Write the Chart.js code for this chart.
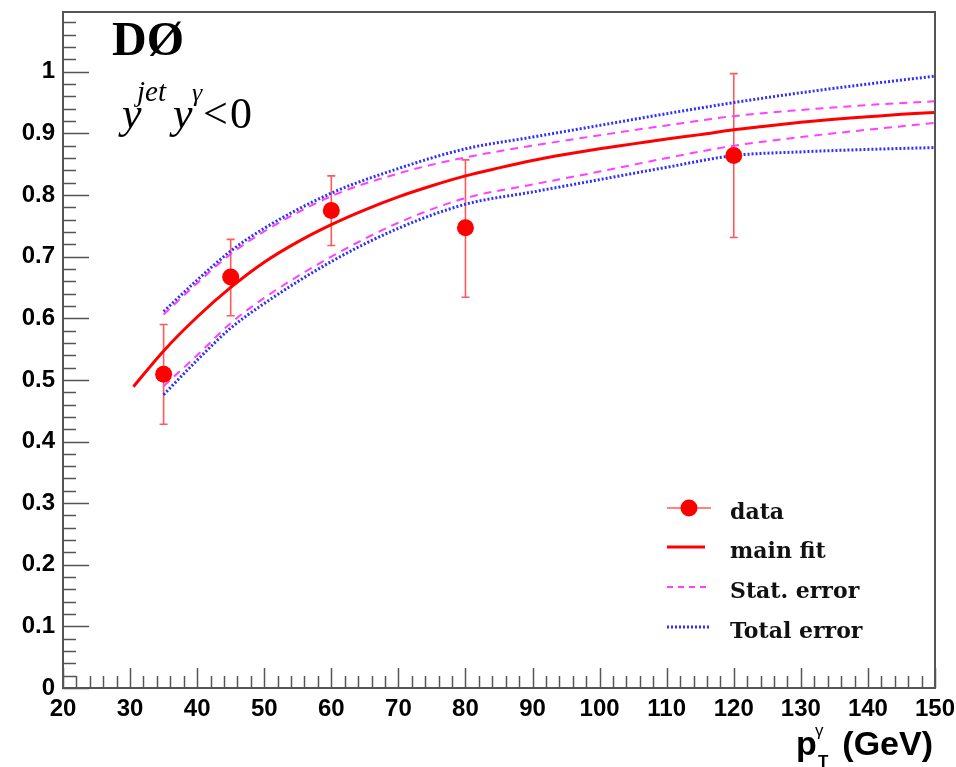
<!DOCTYPE html>
<html>
<head>
<meta charset="utf-8">
<script src="https://cdn.jsdelivr.net/npm/chart.js@4.4.1/dist/chart.umd.min.js"></script>
<style>
  html, body { margin: 0; padding: 0; background: #ffffff; }
  #wrap { width: 956px; height: 767px; }
</style>
</head>
<body>
<div id="wrap"><canvas id="c" width="956" height="767"></canvas></div>
<script>
// ---- data ----
const dataX    = [35, 45, 60, 80, 120];
const dataY    = [0.509, 0.667, 0.775, 0.747, 0.864];
const dataHigh = [0.590, 0.728, 0.831, 0.857, 0.997];
const dataLow  = [0.428, 0.604, 0.718, 0.634, 0.731];

const fitX = [30.5, 35, 40, 45, 50, 55, 60, 65, 70, 75, 80, 85, 90, 95, 100, 105, 110, 115, 120, 125, 130, 135, 140, 145, 150];
const fitY = [0.489, 0.547, 0.602, 0.650, 0.691, 0.724, 0.752, 0.776, 0.797, 0.815, 0.831, 0.844, 0.856, 0.866, 0.875, 0.883, 0.891, 0.898, 0.906, 0.912, 0.918, 0.923, 0.927, 0.931, 0.934];

const bandX   = [35, 40, 45, 50, 60, 70, 80, 90, 100, 110, 120, 130, 140, 150];
const statUp  = [0.606, 0.657, 0.704, 0.741, 0.798, 0.835, 0.861, 0.880, 0.897, 0.913, 0.928, 0.938, 0.946, 0.952];
const statDn  = [0.490, 0.540, 0.592, 0.633, 0.700, 0.755, 0.795, 0.817, 0.838, 0.860, 0.880, 0.894, 0.906, 0.917];
const totUp   = [0.611, 0.662, 0.709, 0.746, 0.803, 0.843, 0.875, 0.894, 0.913, 0.932, 0.950, 0.966, 0.980, 0.993];
const totDn   = [0.476, 0.532, 0.584, 0.624, 0.692, 0.746, 0.785, 0.805, 0.825, 0.845, 0.864, 0.870, 0.874, 0.877];

const xTickLabels = ['20','30','40','50','60','70','80','90','100','110','120','130','140','150'];
const yTickLabels = ['0','0.1','0.2','0.3','0.4','0.5','0.6','0.7','0.8','0.9','1'];
const legendLabels = ['data', 'main fit', 'Stat. error', 'Total error'];

const X_MIN = 20, X_MAX = 150, X_STEP = 10, X_MINOR = 2;
const Y_MIN = 0, Y_MAX = 1.097, Y_STEP = 0.1, Y_MINOR = 0.02;

const pts = (xs, ys) => xs.map((x, i) => ({x: x, y: ys[i]}));

const RED = '#ff0000';
const ERR = 'rgba(255,60,60,0.85)';
const MAG = '#ff40ff';
const BLUE = '#2f2fff';
const FRAME = '#555555';

const datasets = [
  { label: legendLabels[0], data: pts(dataX, dataY), showLine: false,
    pointRadius: 8.5, pointHoverRadius: 8.5, pointBackgroundColor: RED, pointBorderColor: RED,
    pointBorderWidth: 0, borderColor: RED, backgroundColor: RED, order: 0 },
  { label: legendLabels[1], data: pts(fitX, fitY), borderColor: RED, borderWidth: 3,
    pointRadius: 0, cubicInterpolationMode: 'monotone', fill: false, order: 1 },
  { label: legendLabels[2], data: pts(bandX, statUp), borderColor: MAG, borderWidth: 2,
    borderDash: [8, 6], pointRadius: 0, cubicInterpolationMode: 'monotone', fill: false, order: 2 },
  { label: '_statDn', data: pts(bandX, statDn), borderColor: MAG, borderWidth: 2,
    borderDash: [8, 6], pointRadius: 0, cubicInterpolationMode: 'monotone', fill: false, order: 2 },
  { label: legendLabels[3], data: pts(bandX, totUp), borderColor: BLUE, borderWidth: 3,
    borderDash: [2, 2], pointRadius: 0, cubicInterpolationMode: 'monotone', fill: false, order: 3 },
  { label: '_totDn', data: pts(bandX, totDn), borderColor: BLUE, borderWidth: 3,
    borderDash: [2, 2], pointRadius: 0, cubicInterpolationMode: 'monotone', fill: false, order: 3 }
];

// error bars drawn through the chart scales
const errorBars = {
  id: 'errorBars',
  beforeDatasetsDraw(chart) {
    const {ctx, scales: {x, y}} = chart;
    ctx.save();
    ctx.strokeStyle = ERR;
    ctx.lineWidth = 1.6;
    dataX.forEach((vx, i) => {
      const px = x.getPixelForValue(vx);
      const pHi = y.getPixelForValue(dataHigh[i]);
      const pLo = y.getPixelForValue(dataLow[i]);
      ctx.beginPath();
      ctx.moveTo(px, pHi); ctx.lineTo(px, pLo);
      ctx.moveTo(px - 4, pHi); ctx.lineTo(px + 4, pHi);
      ctx.moveTo(px - 4, pLo); ctx.lineTo(px + 4, pLo);
      ctx.stroke();
    });
    ctx.restore();
  }
};

// frame, inward major/minor ticks, texts and legend
const decor = {
  id: 'decor',
  afterDraw(chart) {
    const {ctx, chartArea: a, scales: {x, y}} = chart;
    ctx.save();
    // frame
    ctx.strokeStyle = FRAME;
    ctx.lineWidth = 2;
    ctx.strokeRect(a.left, a.top, a.right - a.left, a.bottom - a.top);
    // x ticks
    ctx.lineWidth = 1.5;
    ctx.beginPath();
    for (let v = X_MIN; v <= X_MAX + 1e-9; v += X_MINOR) {
      const px = Math.round(x.getPixelForValue(v)) + 0.5;
      const major = Math.abs(v / X_STEP - Math.round(v / X_STEP)) < 1e-6;
      ctx.moveTo(px, a.bottom);
      ctx.lineTo(px, a.bottom - (major ? 20 : 12));
    }
    // y ticks
    for (let v = Y_MIN; v <= Y_MAX + 1e-9; v += Y_MINOR) {
      const py = Math.round(y.getPixelForValue(v)) + 0.5;
      const major = Math.abs(v / Y_STEP - Math.round(v / Y_STEP)) < 1e-6;
      ctx.moveTo(a.left, py);
      ctx.lineTo(a.left + (major ? 26 : 13), py);
    }
    ctx.stroke();

    // DØ label
    ctx.fillStyle = '#000';
    ctx.textBaseline = 'alphabetic';
    ctx.textAlign = 'left';
    ctx.font = 'bold 48px "Liberation Serif"';
    ctx.fillText('DØ', 112, 55);

    // y^jet y^γ < 0
    ctx.font = 'italic 44px "Liberation Serif"';
    ctx.fillText('y', 122, 128);
    ctx.font = 'italic 29px "Liberation Serif"';
    ctx.fillText('jet', 137, 101);
    ctx.font = 'italic 44px "Liberation Serif"';
    ctx.fillText('y', 173, 128);
    ctx.font = 'italic 26px "Liberation Serif"';
    ctx.fillText('γ', 192, 101);
    ctx.font = '44px "Liberation Serif"';
    ctx.fillText('<', 203, 128);
    ctx.fillText('0', 230, 128);

    // axis title p_T^γ (GeV)
    ctx.font = 'bold 34px "Liberation Sans"';
    ctx.textAlign = 'right';
    ctx.fillText('(GeV)', 933, 755);
    ctx.textAlign = 'left';
    ctx.fillText('p', 796, 755);
    ctx.font = 'bold 17px "Liberation Sans"';
    ctx.fillText('T', 818, 767);
    ctx.font = '17px "Liberation Sans"';
    ctx.fillText('γ', 815, 736);

    // legend
    const rows = [508, 547, 587, 627];
    const lx0 = 667, lx1 = 711;
    ctx.font = 'bold 22px "DejaVu Serif"';
    // data
    ctx.strokeStyle = ERR; ctx.lineWidth = 1.6; ctx.setLineDash([]);
    ctx.beginPath(); ctx.moveTo(lx0, rows[0]); ctx.lineTo(lx1, rows[0]); ctx.stroke();
    ctx.fillStyle = RED;
    ctx.beginPath(); ctx.arc(689, rows[0], 8.5, 0, Math.PI * 2); ctx.fill();
    // main fit
    ctx.strokeStyle = RED; ctx.lineWidth = 3;
    ctx.beginPath(); ctx.moveTo(lx0, rows[1]); ctx.lineTo(705, rows[1]); ctx.stroke();
    // stat
    ctx.strokeStyle = MAG; ctx.lineWidth = 2; ctx.setLineDash([6, 5]);
    ctx.beginPath(); ctx.moveTo(lx0, rows[2]); ctx.lineTo(708, rows[2]); ctx.stroke();
    // total
    ctx.strokeStyle = BLUE; ctx.lineWidth = 3; ctx.setLineDash([2, 2]);
    ctx.beginPath(); ctx.moveTo(lx0, rows[3]); ctx.lineTo(710, rows[3]); ctx.stroke();
    ctx.setLineDash([]);
    ctx.fillStyle = '#111';
    legendLabels.forEach((t, i) => ctx.fillText(t, 730, rows[i] + 11));
    ctx.restore();
  }
};

new Chart(document.getElementById('c'), {
  type: 'line',
  data: { datasets: datasets },
  options: {
    responsive: false,
    animation: false,
    devicePixelRatio: 1,
    layout: { padding: { top: 12, right: 21, left: 0, bottom: 0 } },
    plugins: { legend: { display: false }, tooltip: { enabled: false } },
    scales: {
      x: {
        type: 'linear', min: X_MIN, max: X_MAX,
        grid: { display: false, drawTicks: false },
        border: { display: false },
        ticks: {
          stepSize: X_STEP, padding: 7, color: '#000', maxRotation: 0, autoSkip: false,
          font: { family: '"Liberation Sans"', size: 24, weight: 'bold' },
          callback: (v) => xTickLabels.includes(String(v)) ? String(v) : ''
        },
        afterFit: (s) => { s.height = 79; s.paddingLeft = 0; s.paddingRight = 0; }
      },
      y: {
        type: 'linear', min: Y_MIN, max: Y_MAX,
        grid: { display: false, drawTicks: false },
        border: { display: false },
        ticks: {
          stepSize: Y_STEP, padding: 8, color: '#000', autoSkip: false,
          font: { family: '"Liberation Sans"', size: 24, weight: 'bold' },
          callback: (v) => {
            const s = String(Math.round(v * 10) / 10);
            return (Math.abs(v * 10 - Math.round(v * 10)) < 1e-6 && yTickLabels.includes(s)) ? s : '';
          }
        },
        afterFit: (s) => { s.width = 63; s.paddingTop = 0; s.paddingBottom = 0; }
      }
    }
  },
  plugins: [errorBars, decor]
});
</script>
</body>
</html>
